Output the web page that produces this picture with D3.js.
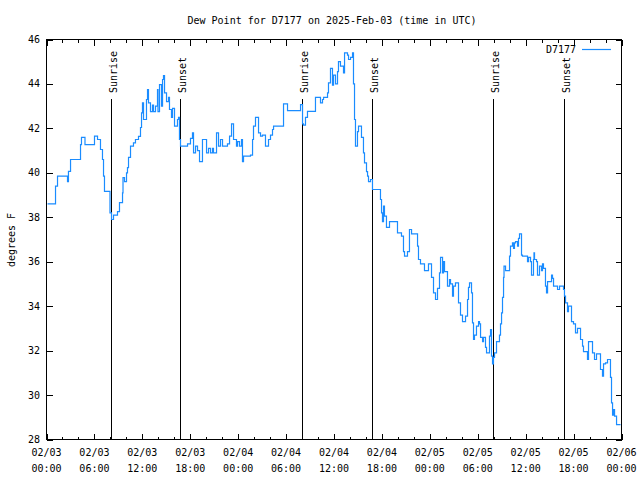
<!DOCTYPE html>
<html><head><meta charset="utf-8">
<script src="https://cdn.jsdelivr.net/npm/d3@7"></script>
<style>
body{margin:0;background:#fff}
text{font-family:"DejaVu Sans Mono","Liberation Mono",monospace;font-size:10px;fill:#000}
</style>
</head><body>
<svg id="chart" width="640" height="480"></svg>
<script>
const title = "Dew Point for D7177 on 2025-Feb-03 (time in UTC)";
const yLabel = "degrees F";
const seriesName = "D7177";
const startTime = "2025-02-03T00:00:00Z";
const spanHours = 72;
const yTicks = [28, 30, 32, 34, 36, 38, 40, 42, 44, 46];

// hours since 2025-02-03 00:00 UTC
const hours = [0.13,0.75,1.13,1.38,2.38,2.63,2.75,3.01,4.13,4.26,4.38,4.76,4.82,5.89,6.01,6.39,6.76,7.01,7.14,7.26,7.89,7.95,8.14,8.39,8.89,9.14,9.52,9.58,9.77,10.02,10.14,10.27,10.52,10.89,11.14,11.52,11.77,11.90,12.02,12.15,12.52,12.65,12.77,13.02,13.27,13.40,13.65,13.90,13.96,14.15,14.40,14.53,14.65,14.78,15.03,15.28,15.40,15.65,15.78,16.03,16.40,16.53,16.65,16.78,17.53,17.66,18.03,18.28,18.41,18.66,18.91,19.16,19.53,19.78,20.04,20.29,20.54,20.79,20.91,21.29,21.54,21.79,22.04,22.66,22.92,23.17,23.42,23.79,23.92,24.17,24.42,24.54,24.67,25.54,25.80,25.92,26.17,26.42,26.55,26.80,27.05,27.42,27.80,28.05,28.30,28.43,29.55,29.68,30.05,30.18,31.56,31.81,32.06,32.18,32.43,32.68,33.43,33.68,33.93,34.31,34.56,34.69,35.19,35.31,35.56,35.81,35.94,36.19,36.44,36.56,36.81,37.19,37.32,37.69,37.82,38.07,38.32,38.44,38.57,38.69,38.94,39.07,39.32,39.44,39.69,39.82,40.07,40.20,40.32,40.57,40.82,41.70,41.82,41.95,42.07,42.20,42.32,42.57,42.83,42.95,43.83,43.95,44.45,44.70,44.83,45.20,45.45,45.71,46.33,46.46,46.58,46.83,47.33,47.83,48.21,48.46,48.71,48.96,49.21,49.34,49.59,49.71,49.84,50.09,50.21,50.46,50.59,50.84,50.96,51.21,51.47,51.59,51.84,52.09,52.34,52.47,52.72,52.84,52.97,53.22,53.34,53.47,53.59,53.84,54.10,54.22,54.35,54.60,54.72,54.97,55.10,55.35,55.47,55.60,55.72,55.85,55.97,56.10,56.35,56.60,56.72,56.85,56.98,57.10,57.23,57.29,57.48,57.85,57.98,58.10,58.35,58.48,58.60,58.73,58.98,59.10,59.23,59.48,59.60,60.11,60.23,60.36,60.61,60.73,60.98,61.04,61.11,61.36,61.48,61.73,61.98,62.11,62.23,62.48,62.61,62.74,62.99,63.24,63.36,63.49,63.86,63.99,64.24,64.49,64.74,64.86,64.99,65.24,65.36,65.49,65.74,65.99,66.24,66.49,66.62,66.87,67.12,67.24,67.62,67.74,67.87,68.24,68.37,68.62,68.87,69.12,69.37,69.62,69.75,70.00,70.25,70.37,70.62,70.75,70.88,71.00,71.13,71.38,71.88];

const dewpoint = [38.6,38.6,39.4,39.85,39.85,39.6,40.07,40.6,40.6,41.27,41.6,41.6,41.27,41.27,41.65,41.5,41.05,40.6,39.85,39.17,39.17,38.2,37.9,38.1,38.25,38.66,39.1,39.78,39.6,40.0,40.23,40.7,41.2,41.35,41.5,41.64,42.04,42.7,43.15,42.4,43.3,43.75,43.15,42.75,43.05,42.75,43.0,43.75,42.75,43.97,43.0,44.2,44.38,43.6,43.2,43.4,42.85,42.5,42.9,42.1,42.4,42.5,41.5,41.2,41.2,41.3,41.55,41.8,40.9,41.2,41.0,40.5,41.5,41.5,40.9,41.1,40.9,41.1,40.9,41.8,41.2,41.5,41.2,41.3,41.65,42.2,41.5,41.2,41.4,41.2,41.5,40.5,40.75,40.8,41.5,42.1,42.5,42.5,41.8,41.65,41.7,41.2,41.5,41.7,41.95,42.1,42.1,43.1,43.1,42.8,42.8,43.07,42.2,42.15,42.5,42.77,42.77,43.4,43.4,43.15,43.3,43.4,43.6,44.05,44.7,43.95,44.4,44.0,44.55,45.0,44.8,44.5,45.4,45.3,45.1,45.2,45.4,44.0,42.4,41.2,41.85,42.1,42.1,41.6,40.9,40.45,40.05,39.85,39.6,39.7,39.25,39.25,38.8,38.2,37.8,38.5,38.05,37.55,37.55,37.8,37.8,37.3,37.15,36.45,36.25,36.45,37.45,37.25,37.25,36.7,36.1,35.9,35.6,35.9,35.3,34.6,34.3,34.8,35.5,36.2,35.5,36.0,35.55,35.55,34.9,35.2,35.0,34.45,34.9,35.05,35.05,34.15,33.6,33.3,33.3,33.55,34.3,34.85,35.05,34.6,33.25,32.5,32.7,33.1,33.3,33.2,32.6,32.4,32.6,32.15,31.9,31.9,32.65,32.95,31.75,31.4,31.7,31.9,32.4,32.4,32.7,33.2,33.7,34.4,35.3,35.8,35.6,35.6,36.25,36.7,36.85,36.6,36.85,36.9,36.7,37.05,37.25,36.3,36.25,36.25,36.0,36.2,36.0,35.4,36.1,36.4,36.1,36.0,35.4,35.8,35.6,35.9,35.7,34.9,34.6,35.1,35.1,35.4,35.25,34.9,34.9,34.75,34.9,34.9,34.75,34.45,34.15,33.75,34.0,34.0,33.3,33.2,32.8,33.0,33.0,32.5,32.2,31.95,31.95,31.6,32.4,32.4,31.9,31.6,31.85,31.85,31.15,30.85,31.4,31.45,31.6,31.6,30.8,29.65,29.1,29.35,29.05,28.67,28.67];

const sunLabels = ["Sunrise", "Sunset", "Sunrise", "Sunset", "Sunrise", "Sunset"];
const sunHours = [8.05, 16.69, 32.02, 40.73, 55.89, 64.78];

const lineColor = "#1a8cff";

const svg = d3.select("#chart");
const t0 = new Date(startTime);
const toDate = h => new Date(t0.getTime() + h * 3600e3);
const data = hours.map((h, i) => ({ t: toDate(h), v: dewpoint[i] }));

const L = 46.5, R = 621.5, T = 39.5, B = 439.5;
const x = d3.scaleUtc().domain([t0, toDate(spanHours)]).range([L, R]);
const y = d3.scaleLinear().domain([28, 46]).range([B, T]);

const minorTicks = d3.utcHour.every(2).range(t0, toDate(spanHours + 0.01));
const majorTicks = d3.utcHour.every(6).range(t0, toDate(spanHours + 0.01));

function styleAxis(g) {
  g.select(".domain").remove();
  g.selectAll("line").attr("stroke", "#000").attr("shape-rendering", "crispEdges");
  g.selectAll("text").remove();
}

// minor + major x ticks, bottom and top (inward)
svg.append("g").attr("transform", `translate(0,${B})`)
  .call(d3.axisBottom(x).tickValues(minorTicks).tickSizeInner(-3).tickSizeOuter(0)).call(styleAxis);
svg.append("g").attr("transform", `translate(0,${B})`)
  .call(d3.axisBottom(x).tickValues(majorTicks).tickSizeInner(-6).tickSizeOuter(0)).call(styleAxis);
svg.append("g").attr("transform", `translate(0,${T})`)
  .call(d3.axisTop(x).tickValues(minorTicks).tickSizeInner(-3).tickSizeOuter(0)).call(styleAxis);
svg.append("g").attr("transform", `translate(0,${T})`)
  .call(d3.axisTop(x).tickValues(majorTicks).tickSizeInner(-6).tickSizeOuter(0)).call(styleAxis);

// y ticks left and right (inward)
svg.append("g").attr("transform", `translate(${L},0)`)
  .call(d3.axisLeft(y).tickValues(yTicks).tickSizeInner(-6).tickSizeOuter(0)).call(styleAxis);
svg.append("g").attr("transform", `translate(${R},0)`)
  .call(d3.axisRight(y).tickValues(yTicks).tickSizeInner(-6).tickSizeOuter(0)).call(styleAxis);

// y tick labels
svg.append("g").selectAll("text").data(yTicks).join("text")
  .attr("x", 40).attr("y", d => y(d)).attr("dy", "0.35em")
  .attr("text-anchor", "end").text(d => d);

// x tick labels (two lines)
const fDate = d3.utcFormat("%m/%d"), fTime = d3.utcFormat("%H:%M");
const xl = svg.append("g").selectAll("g").data(majorTicks).join("g");
xl.append("text").attr("x", d => x(d)).attr("y", 452).attr("dy", "0.35em")
  .attr("text-anchor", "middle").text(d => fDate(d));
xl.append("text").attr("x", d => x(d)).attr("y", 468).attr("dy", "0.35em")
  .attr("text-anchor", "middle").text(d => fTime(d));

// sunrise / sunset lines
const sun = svg.append("g").selectAll("g").data(sunHours.map((h, i) => ({ t: toDate(h), label: sunLabels[i] }))).join("g");
sun.append("line")
  .attr("x1", d => Math.round(x(d.t)) + 0.5).attr("x2", d => Math.round(x(d.t)) + 0.5)
  .attr("y1", 99).attr("y2", B)
  .attr("stroke", "#000").attr("stroke-width", 1).attr("shape-rendering", "crispEdges");
sun.append("text")
  .attr("transform", d => `translate(${Math.round(x(d.t)) + 6},93) rotate(-90)`)
  .attr("text-anchor", "start").text(d => d.label);

// data line
const line = d3.line().x(d => x(d.t)).y(d => y(d.v)).curve(d3.curveStepAfter);
svg.append("path").datum(data)
  .attr("d", line).attr("fill", "none").attr("stroke", lineColor)
  .attr("stroke-width", 1.2);

// frame
svg.append("rect").attr("x", L).attr("y", T).attr("width", R - L).attr("height", B - T)
  .attr("fill", "none").attr("stroke", "#000").attr("shape-rendering", "crispEdges");

// title and axis label
svg.append("text").attr("x", 332).attr("y", 20).attr("dy", "0.35em")
  .attr("text-anchor", "middle").text(title);
svg.append("text").attr("transform", "translate(11,240) rotate(-90)")
  .attr("dy", "0.35em").attr("text-anchor", "middle").text(yLabel);

// legend
svg.append("text").attr("x", 576).attr("y", 49).attr("dy", "0.35em")
  .attr("text-anchor", "end").text(seriesName);
svg.append("line").attr("x1", 582).attr("x2", 611).attr("y1", 49.5).attr("y2", 49.5)
  .attr("stroke", lineColor).attr("stroke-width", 1.2);
</script>
</body></html>
